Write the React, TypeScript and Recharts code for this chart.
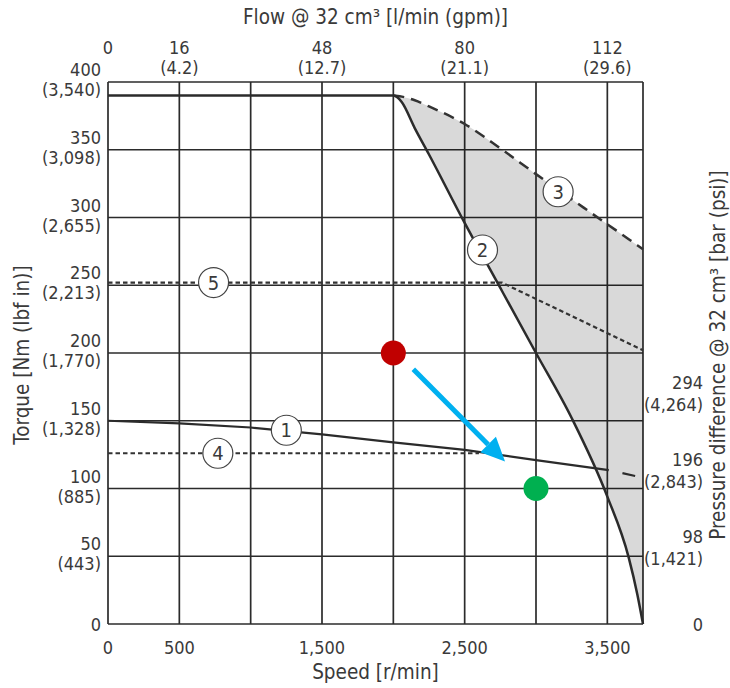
import React from 'react'
import {
  ComposedChart,
  Line,
  Area,
  XAxis,
  YAxis,
  CartesianGrid,
  ReferenceDot,
  ReferenceLine,
} from 'recharts'

const FONT = "'Liberation Sans Narrow', 'DejaVu Sans Condensed', 'Roboto Condensed', sans-serif"
const INK = '#3a3a3a'

// axes
const speedGrid = [0, 500, 1000, 1500, 2000, 2500, 3000, 3500, 3750]
const speedLabelValues = [0, 500, 1500, 2500, 3500]
const speedLabels = ['0', '500', '1,500', '2,500', '3,500']
const flowLabels = ['0', '16', '48', '80', '112']
const gpmLabels = ['', '(4.2)', '(12.7)', '(21.1)', '(29.6)']
const torqueTicks = [0, 50, 100, 150, 200, 250, 300, 350, 400]
const lbfLabels = ['', '(443)', '(885)', '(1,328)', '(1,770)', '(2,213)', '(2,655)', '(3,098)', '(3,540)']
const pressureTicks = [0, 98, 196, 294]
const psiLabels = ['', '(1,421)', '(2,843)', '(4,264)']

// curves (speed r/min, torque Nm)
const curve1Speed = [0, 500, 1000, 1500, 2000, 2500, 3000, 3510]
const curve1Torque = [150, 148, 145, 140, 134, 128.5, 121, 113.5]
const curve1TailSpeed = [3510, 3750]
const curve1TailTorque = [113.5, 108]
const curve2Speed = [0, 2000, 2030, 2060, 2150, 2250, 2500, 2750, 3000, 3250, 3500, 3650, 3710, 3750]
const curve2Torque = [390, 390, 388.5, 385, 366, 346.5, 296, 248, 200, 152, 94, 49, 22, 0]
const curve3Torque = [390, 389.7, 389.2, 386.5, 382, 369, 351, 332, 313.5, 295, 284, 279.5, 276.5]
const curve4Speed = [0, 2600]
const curve4Torque = [126, 126]
const curve5Speed = [0, 2760, 3750]
const curve5Torque = [252, 252, 202]

// circled numbers
const tagText = ['1', '2', '3', '4', '5']
const tagSpeed = [1250, 2625, 3155, 770, 740]
const tagTorque = [143, 276, 319, 126, 252]

// operating points + arrow
const startPoint = { speed: 2000, torque: 200 }
const endPoint = { speed: 3000, torque: 100 }
const arrowFrom = { speed: 2140, torque: 188 }
const arrowTo = { speed: 2783, torque: 120 }

const toPoints = (xs: number[], ys: number[]) => xs.map((speed, i) => ({ speed, torque: ys[i] }))

const curve3Speed = curve2Speed.slice(1)
const curve1 = toPoints(curve1Speed, curve1Torque)
const curve1Tail = toPoints(curve1TailSpeed, curve1TailTorque)
const curve2 = toPoints(curve2Speed, curve2Torque)
const curve3 = toPoints(curve3Speed, curve3Torque)
const curve4 = toPoints(curve4Speed, curve4Torque)
const curve5 = toPoints(curve5Speed, curve5Torque)
const shade = curve3Speed.map((speed, i) => ({ speed, band: [curve2Torque[i + 1], curve3Torque[i]] }))

const tickStyle = { fontFamily: FONT, fontSize: 18, fill: INK }
const titleStyle = { fontFamily: FONT, fontSize: 20.5, fill: INK }

function BottomTick(props: any) {
  const { x, y, payload } = props
  const i = speedLabelValues.indexOf(payload.value)
  if (i < 0) return null
  return (
    <text x={x} y={y + 30} textAnchor="middle" {...tickStyle}>
      {speedLabels[i]}
    </text>
  )
}

function TopTick(props: any) {
  const { x, y, payload } = props
  const i = speedLabelValues.indexOf(payload.value)
  if (i < 0) return null
  return (
    <g>
      <text x={x} y={y - 28} textAnchor="middle" {...tickStyle}>{flowLabels[i]}</text>
      {gpmLabels[i] && (
        <text x={x} y={y - 8} textAnchor="middle" {...tickStyle}>{gpmLabels[i]}</text>
      )}
    </g>
  )
}

function LeftTick(props: any) {
  const { x, y, payload } = props
  const i = torqueTicks.indexOf(payload.value)
  if (i === 0) {
    return <text x={x} y={y + 7} textAnchor="end" {...tickStyle}>0</text>
  }
  return (
    <g>
      <text x={x} y={y - 6} textAnchor="end" {...tickStyle}>{torqueTicks[i]}</text>
      <text x={x} y={y + 14} textAnchor="end" {...tickStyle}>{lbfLabels[i]}</text>
    </g>
  )
}

function RightTick(props: any) {
  const { x, y, payload } = props
  const i = pressureTicks.indexOf(payload.value)
  if (i === 0) {
    return <text x={x} y={y + 7} textAnchor="end" {...tickStyle}>0</text>
  }
  return (
    <g>
      <text x={x} y={y - 4} textAnchor="end" {...tickStyle}>{pressureTicks[i]}</text>
      <text x={x} y={y + 18} textAnchor="end" {...tickStyle}>{psiLabels[i]}</text>
    </g>
  )
}

function ArrowShape(props: any) {
  const { x1, y1, x2, y2 } = props
  const ang = Math.atan2(y2 - y1, x2 - x1)
  const len = 24
  const half = 11
  const bx = x2 - len * Math.cos(ang)
  const by = y2 - len * Math.sin(ang)
  const px = -Math.sin(ang) * half
  const py = Math.cos(ang) * half
  return (
    <g>
      <line x1={x1} y1={y1} x2={bx} y2={by} stroke="#00b0f0" strokeWidth={5} />
      <polygon points={`${x2},${y2} ${bx + px},${by + py} ${bx - px},${by - py}`} fill="#00b0f0" />
    </g>
  )
}

function rotatedLabel(text: string, dx: number) {
  return (props: any) => {
    const vb = props.viewBox
    const cx = vb.x + dx
    const cy = 355
    return (
      <text
        x={cx}
        y={cy}
        transform={`rotate(-90 ${cx} ${cy})`}
        textAnchor="middle"
        dominantBaseline="central"
        {...titleStyle}
      >
        {text}
      </text>
    )
  }
}

export default function App() {
  const common = { xAxisId: 0, yAxisId: 0, dataKey: 'torque', dot: false, activeDot: false, isAnimationActive: false } as any
  return (
    <div style={{ position: 'absolute', left: 0, top: 0, width: 730, height: 688, background: '#fff' }}>
      <ComposedChart width={730} height={688} margin={{ top: 0, right: 0, bottom: 0, left: 0 }}>
        <XAxis
          xAxisId={0}
          type="number"
          dataKey="speed"
          domain={[0, 3750]}
          ticks={speedGrid}
          interval={0}
          height={64}
          axisLine={false}
          tickLine={false}
          tickSize={0}
          tickMargin={0}
          tick={<BottomTick />}
          label={{ value: 'Speed [r/min]', position: 'insideBottom', offset: 9, style: titleStyle }}
        />
        <XAxis
          xAxisId="top"
          orientation="top"
          type="number"
          dataKey="speed"
          domain={[0, 3750]}
          ticks={speedLabelValues}
          interval={0}
          height={82}
          axisLine={false}
          tickLine={false}
          tickSize={0}
          tickMargin={0}
          tick={<TopTick />}
          label={{ value: 'Flow @ 32 cm³ [l/min (gpm)]', position: 'insideTop', offset: 9, style: titleStyle }}
        />
        <YAxis
          yAxisId={0}
          type="number"
          domain={[0, 400]}
          ticks={torqueTicks}
          interval={0}
          width={108}
          axisLine={false}
          tickLine={false}
          tickSize={0}
          tickMargin={7}
          tick={<LeftTick />}
          label={{ content: rotatedLabel('Torque [Nm (lbf in)]', 22) }}
        />
        <YAxis
          yAxisId="right"
          orientation="right"
          type="number"
          domain={[0, 690]}
          ticks={pressureTicks}
          interval={0}
          width={87}
          axisLine={false}
          tickLine={false}
          tickSize={0}
          tickMargin={60}
          tick={<RightTick />}
          label={{ content: rotatedLabel('Pressure difference @ 32 cm³ [bar (psi)]', 75) }}
        />
        <Area
          xAxisId={0}
          yAxisId={0}
          data={shade}
          dataKey="band"
          type="monotone"
          stroke="none"
          fill="#000"
          fillOpacity={0.15}
          isAnimationActive={false}
        />
        <CartesianGrid xAxisId={0} yAxisId={0} stroke="#2b2b2b" strokeWidth={1.7} />
        {/* invisible series so the top flow axis and right pressure axis get drawn */}
        <Line xAxisId="top" yAxisId="right" data={curve4} dataKey="torque" stroke="none" dot={false} activeDot={false} isAnimationActive={false} />
        <Line {...common} data={curve4} stroke="#333" strokeWidth={2.2} strokeDasharray="4.5 3" />
        <Line {...common} data={curve5} stroke="#333" strokeWidth={2.2} strokeDasharray="4.5 3" />
        <Line {...common} data={curve3} type="monotone" stroke="#333" strokeWidth={2.5} strokeDasharray="11 7" />
        <Line {...common} data={curve1} stroke="#2b2b2b" strokeWidth={2.2} />
        <Line {...common} data={curve1Tail} stroke="#2b2b2b" strokeWidth={2.2} strokeDasharray="0 14 13 30" />
        <Line {...common} data={curve2} type="monotone" stroke="#2b2b2b" strokeWidth={2.5} />
        {tagText.map((t, i) => (
          <ReferenceDot
            key={t}
            xAxisId={0}
            yAxisId={0}
            x={tagSpeed[i]}
            y={tagTorque[i]}
            r={15}
            fill="#fff"
            stroke="#444"
            strokeWidth={1.2}
            label={{ value: t, position: 'center', style: { ...tickStyle, fontSize: 20 } }}
          />
        ))}
        <ReferenceLine
          xAxisId={0}
          yAxisId={0}
          segment={[
            { x: arrowFrom.speed, y: arrowFrom.torque },
            { x: arrowTo.speed, y: arrowTo.torque },
          ]}
          shape={ArrowShape}
        />
        <ReferenceDot xAxisId={0} yAxisId={0} x={startPoint.speed} y={startPoint.torque} r={12.5} fill="#c00000" stroke="none" />
        <ReferenceDot xAxisId={0} yAxisId={0} x={endPoint.speed} y={endPoint.torque} r={12.5} fill="#00b050" stroke="none" />
      </ComposedChart>
    </div>
  )
}
